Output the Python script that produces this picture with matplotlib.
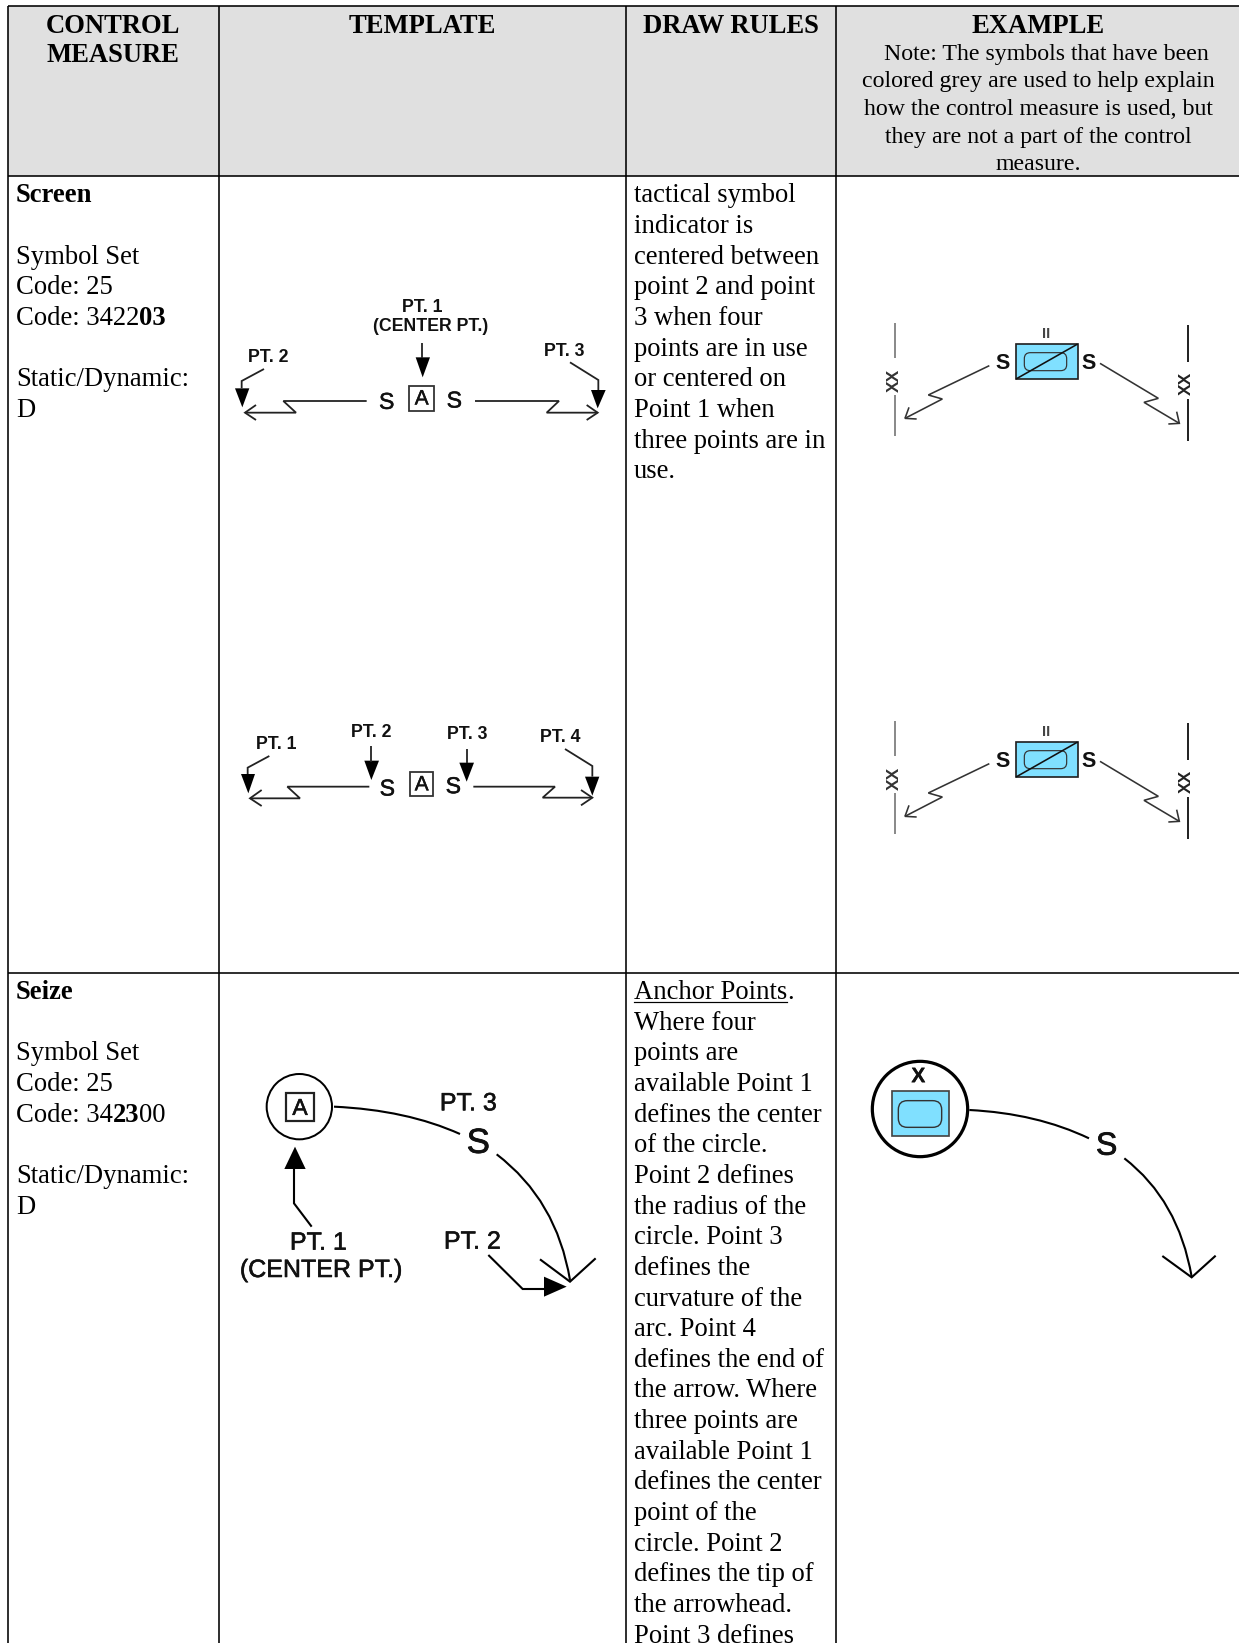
import matplotlib
matplotlib.use("Agg")
import matplotlib.pyplot as plt
import matplotlib.patheffects as pe
from matplotlib.patches import Rectangle, Circle, Polygon, FancyBboxPatch, PathPatch
from matplotlib.path import Path

W, H = 1239, 1643
SERIF = "Liberation Serif"
SANS = "Liberation Sans"

# table layout, in reference pixels
COL_X = [8, 219, 626, 836]
HEADER_Y = [6, 175.5]
ROW_Y = 972.5
LINE_H = 30.65

HEADERS = [("CONTROL", 113, 33), ("MEASURE", 113, 62.5), ("TEMPLATE", 422, 33), ("DRAW RULES", 731, 33), ("EXAMPLE", 1038, 33)]
NOTE_LINES = ["Note: The symbols that have been", "colored grey are used to help explain",
              "how the control measure is used, but", "they are not a part of the control", "measure."]
NOTE_SHIFT = [8, 0, 0, 0, 0]

SCREEN_RULES = ["tactical symbol", "indicator is", "centered between", "point 2 and point", "3 when four",
                "points are in use", "or centered on", "Point 1 when", "three points are in", "use."]
SEIZE_RULES = ["Where four", "points are", "available Point 1", "defines the center", "of the circle.",
               "Point 2 defines", "the radius of the", "circle. Point 3", "defines the", "curvature of the",
               "arc. Point 4", "defines the end of", "the arrow. Where", "three points are", "available Point 1",
               "defines the center", "point of the", "circle. Point 2", "defines the tip of", "the arrowhead.",
               "Point 3 defines"]

# symbol geometry, in crop pixels (scale 3 from the crop origin)
SCREEN_T1_LINES = [[(470, 393), (220, 393), (258, 428), (105, 428)], [(138, 405), (105, 428), (138, 450)],
                   [(795, 393), (1047, 393), (1010, 428), (1163, 428)], [(1130, 405), (1163, 428), (1130, 450)],
                   [(637, 218), (637, 265)], [(162, 297), (95, 333), (95, 355)], [(1080, 277), (1165, 330), (1165, 360)]]
SCREEN_T1_HEADS = [[(617, 262), (660, 262), (638, 322)], [(75, 355), (118, 355), (97, 412)], [(1143, 360), (1187, 360), (1163, 415)]]
SCREEN_T1_LABELS = [("PT. 1", 638, 113), ("(CENTER PT.)", 662, 170), ("PT. 2", 175, 263), ("PT. 3", 1062, 243)]

SCREEN_T2_LINES = [[(478, 260), (232, 260), (270, 295), (120, 295)], [(155, 270), (120, 295), (155, 318)],
                   [(790, 260), (1035, 260), (998, 293), (1147, 293)], [(1113, 270), (1147, 293), (1113, 316)],
                   [(178, 168), (113, 203), (113, 222)], [(484, 138), (484, 185)], [(770, 146), (770, 190)],
                   [(1065, 147), (1147, 198), (1147, 230)]]
SCREEN_T2_HEADS = [[(93, 222), (135, 222), (115, 280)], [(463, 182), (507, 182), (484, 240)],
                   [(748, 188), (792, 188), (770, 245)], [(1125, 230), (1168, 230), (1147, 287)]]
SCREEN_T2_LABELS = [("PT. 1", 200, 133), ("PT. 2", 484, 97), ("PT. 3", 772, 103), ("PT. 4", 1050, 112)]

EX_LINES = [[(448, 197), (265, 285), (307, 297), (195, 355)], [(207, 322), (195, 355), (230, 357)],
            [(780, 190), (955, 295), (912, 307), (1018, 370)], [(1010, 335), (1018, 370), (985, 372)]]

SEIZE_ARROWS = [[(275, 500), (222, 430), (222, 320)], [(805, 585), (908, 687), (975, 687)], [(960, 598), (1050, 665), (1127, 595)]]
SEIZE_HEADS = [[(193, 327), (257, 327), (225, 260)], [(972, 650), (972, 710), (1040, 680)]]
SEIZE_LABELS = [("PT. 1", 295, 548), ("(CENTER PT.)", 303, 630), ("PT. 3", 745, 130), ("PT. 2", 757, 545)]

BLUE = "#80e0ff"

fig = plt.figure(figsize=(W / 100, H / 100), dpi=100)
ax = fig.add_axes([0, 0, 1, 1])
ax.set_xlim(0, W)
ax.set_ylim(H, 0)
ax.axis("off")


def px(v):
    return v * 0.72


def runs(x, y, parts, size=19.15):
    # mixed regular / bold text on one baseline
    r = fig.canvas.get_renderer()
    for s, weight in parts:
        t = ax.text(x, y, s, family=SERIF, fontsize=size, fontweight=weight, va="baseline", ha="left", color="black")
        x += t.get_window_extent(r).width
    return x


def left_cell(y0, title, code):
    runs(16, y0, [(title, "bold")])
    runs(16, y0 + 2 * LINE_H, [("Symbol Set", "normal")])
    runs(16, y0 + 3 * LINE_H, [("Code: 25", "normal")])
    runs(16, y0 + 4 * LINE_H, code)
    runs(16, y0 + 6 * LINE_H, [("Static/Dynamic:", "normal")])
    runs(16, y0 + 7 * LINE_H, [("D", "normal")])


def tr(ox, oy, pts):
    return [(ox + x / 3, oy + y / 3) for x, y in pts]


def poly(ox, oy, pts, lw=1.5, color="black"):
    p = tr(ox, oy, pts)
    ax.plot([a for a, b in p], [b for a, b in p], color=color, lw=px(lw), solid_joinstyle="miter", solid_capstyle="butt")


def curve(ox, oy, p0, c, p1, lw=2.1):
    verts = tr(ox, oy, [p0, c, p1])
    ax.add_patch(PathPatch(Path(verts, [Path.MOVETO, Path.CURVE3, Path.CURVE3]), fc="none", ec="black", lw=px(lw)))


def label(ox, oy, s, x, y, size, weight="bold", color="#111111", rotation=0, stroke=0):
    t = ax.text(ox + x / 3, oy + y / 3, s, family=SANS, fontsize=size, fontweight=weight, color=color,
                ha="center", va="center", rotation=rotation)
    if stroke:
        t.set_path_effects([pe.withStroke(linewidth=stroke, foreground=color)])


def screen_template(ox, oy, lines, heads, labels, s1, s2, box):
    for pts in lines:
        poly(ox, oy, pts, lw=1.8, color="#222222")
    for pts in heads:
        ax.add_patch(Polygon(tr(ox, oy, pts), closed=True, fc="black", ec="none"))
    for s, x, y in labels:
        label(ox, oy, s, x, y, 12.8)
    label(ox, oy, "S", s1[0], s1[1], 16.5, stroke=0.4, weight="normal")
    label(ox, oy, "S", s2[0], s2[1], 16.5, stroke=0.4, weight="normal")
    (x0, y0), (x1, y1) = tr(ox, oy, box)
    ax.add_patch(Rectangle((x0, y0), x1 - x0, y1 - y0, fc="white", ec="#333333", lw=px(1.8)))
    label(ox, oy, "A", (box[0][0] + box[1][0]) / 2, (box[0][1] + box[1][1]) / 2 + 2, 15, weight="normal", stroke=0.3)


def screen_example(ox, oy):
    for pts, c in [([(166, 68), (166, 175)], "#777777"), ([(166, 285), (166, 408)], "#777777"),
                   ([(1045, 75), (1045, 187)], "black"), ([(1045, 297), (1045, 422)], "black")]:
        poly(ox, oy, pts, lw=1.7, color=c)
    label(ox, oy, "XX", 163, 240, 12.5, rotation=90, color="#333333")
    label(ox, oy, "XX", 1040, 250, 12.5, rotation=90, color="#222222")
    (x0, y0), (x1, y1) = tr(ox, oy, [(528, 132), (713, 237)])
    ax.add_patch(Rectangle((x0, y0), x1 - x0, y1 - y0, fc=BLUE, ec="#222222", lw=px(1.7)))
    (x0, y0), (x1, y1) = tr(ox, oy, [(553, 158), (680, 212)])
    ax.add_patch(FancyBboxPatch((x0 + 6, y0 + 6), x1 - x0 - 12, y1 - y0 - 12, boxstyle="round,pad=6,rounding_size=6",
                                fc="none", ec="#333333", lw=px(1.2)))
    poly(ox, oy, [(528, 237), (713, 132)], lw=1.6, color="#111111")
    label(ox, oy, "II", 618, 102, 10.5, color="#444444")
    label(ox, oy, "S", 488, 190, 15.5)
    label(ox, oy, "S", 747, 190, 15.5)
    for pts in EX_LINES:
        poly(ox, oy, pts, lw=1.6, color="#333333")


# header band and grid
ax.add_patch(Rectangle((COL_X[0], HEADER_Y[0]), W - COL_X[0], HEADER_Y[1] - HEADER_Y[0], fc="#e0e0e0", ec="none"))
for x in COL_X:
    ax.plot([x, x], [HEADER_Y[0], H], color="black", lw=px(1.6), solid_capstyle="butt")
for y in [HEADER_Y[0], HEADER_Y[1], ROW_Y]:
    ax.plot([COL_X[0], W], [y, y], color="black", lw=px(1.6), solid_capstyle="butt")

# header text
for s, cx, y in HEADERS:
    ax.text(cx, y, s, family=SERIF, fontsize=19.15, fontweight="bold", ha="center", va="baseline")
for i, s in enumerate(NOTE_LINES):
    ax.text(1038 + NOTE_SHIFT[i], 60 + i * 27.5, s, family=SERIF, fontsize=17.2, ha="center", va="baseline")

# left column
left_cell(202.5, "Screen", [("Code: 3422", "normal"), ("03", "bold")])
left_cell(999, "Seize", [("Code: 34", "normal"), ("23", "bold"), ("00", "normal")])

# draw rules column
for i, s in enumerate(SCREEN_RULES):
    runs(634, 202.5 + i * LINE_H, [(s, "normal")])
end = runs(634, 999, [("Anchor Points", "normal")])
ax.plot([634, end], [1002, 1002], color="black", lw=px(1.2))
runs(end, 999, [(".", "normal")])
for i, s in enumerate(SEIZE_RULES):
    runs(634, 999 + (i + 1) * LINE_H, [(s, "normal")])

# screen templates and examples
screen_template(210, 270, SCREEN_T1_LINES, SCREEN_T1_HEADS, SCREEN_T1_LABELS, (530, 397), (733, 393), [(598, 348), (672, 422)])
screen_template(210, 700, SCREEN_T2_LINES, SCREEN_T2_HEADS, SCREEN_T2_LABELS, (532, 267), (730, 260), [(600, 217), (670, 288)])
screen_example(840, 300)
screen_example(840, 698)

# seize template
ox, oy = 220, 1060
ax.add_patch(Circle((ox + 238 / 3, oy + 140 / 3), 98 / 3, fc="white", ec="black", lw=px(2)))
(x0, y0), (x1, y1) = tr(ox, oy, [(197, 100), (283, 183)])
ax.add_patch(Rectangle((x0, y0), x1 - x0, y1 - y0, fc="white", ec="#222222", lw=px(2.2)))
label(ox, oy, "A", 240, 145, 16.5, weight="normal", stroke=0.4)
curve(ox, oy, (342, 140), (560, 150), (720, 222))
curve(ox, oy, (830, 283), (1010, 420), (1050, 660))
label(ox, oy, "S", 775, 250, 25, weight="normal", stroke=0.6)
for pts in SEIZE_ARROWS:
    poly(ox, oy, pts, lw=2.1)
for pts in SEIZE_HEADS:
    ax.add_patch(Polygon(tr(ox, oy, pts), closed=True, fc="black", ec="none"))
for s, x, y in SEIZE_LABELS:
    label(ox, oy, s, x, y, 18, weight="normal", stroke=0.4)

# seize example
ox, oy = 850, 1030
ax.add_patch(Circle((ox + 210 / 3, oy + 237 / 3), 143 / 3, fc="white", ec="black", lw=px(3.2)))
(x0, y0), (x1, y1) = tr(ox, oy, [(127, 183), (297, 317)])
ax.add_patch(Rectangle((x0, y0), x1 - x0, y1 - y0, fc=BLUE, ec="#444444", lw=px(1.7)))
(x0, y0), (x1, y1) = tr(ox, oy, [(145, 212), (275, 292)])
ax.add_patch(FancyBboxPatch((x0 + 9, y0 + 9), x1 - x0 - 18, y1 - y0 - 18, boxstyle="round,pad=9,rounding_size=9",
                            fc="none", ec="#333333", lw=px(1.4)))
label(ox, oy, "X", 205, 140, 15, stroke=0.2)
curve(ox, oy, (358, 240), (560, 250), (717, 325))
curve(ox, oy, (823, 385), (985, 510), (1025, 740))
label(ox, oy, "S", 770, 350, 23, weight="normal", stroke=0.6)
poly(ox, oy, [(937, 678), (1025, 742), (1097, 677)], lw=2.1)

fig.savefig("out.png", dpi=100)
